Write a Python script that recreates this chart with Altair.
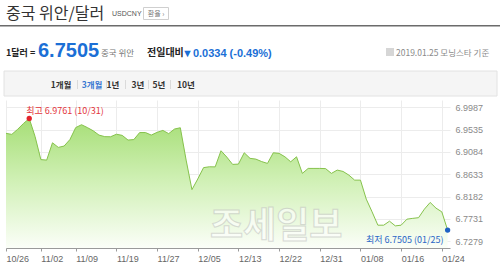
import altair as alt
import pandas as pd

# ---- data ----
values = [
    6.9461, 6.9440, 6.9542, 6.9659, 6.9761, 6.9398, 6.8930, 6.8920, 6.9270, 6.9177,
    6.9204, 6.9335, 6.9578, 6.9635, 6.9578, 6.9513, 6.9426, 6.9394, 6.9392, 6.9443,
    6.9420, 6.9325, 6.9335, 6.9477, 6.9477, 6.9426, 6.9481, 6.9520, 6.9455, 6.9548,
    6.9574, 6.8920, 6.8323, 6.8538, 6.8768, 6.8785, 6.8783, 6.9109, 6.8981, 6.8833,
    6.8839, 6.9068, 6.8955, 6.8940, 6.8890, 6.8853, 6.9068, 6.9056, 6.8987, 6.8886,
    6.8987, 6.8651, 6.8752, 6.8752, 6.8752, 6.8748, 6.8651, 6.8718, 6.8691, 6.8617,
    6.8515, 6.8515, 6.8131, 6.7874, 6.7604, 6.7604, 6.7685, 6.7590, 6.7604, 6.7726,
    6.7742, 6.7756, 6.7928, 6.8064, 6.7949, 6.7874, 6.7505,
]
tick_index = [0, 6, 12, 19, 26, 33, 40, 47, 54, 61, 68, 75]
tick_labels = ["10/26", "11/02", "11/09", "11/19", "11/27", "12/05",
               "12/13", "12/22", "12/31", "01/08", "01/16", "01/24"]
y_ticks = [6.7279, 6.7731, 6.8182, 6.8633, 6.9084, 6.9535, 6.9987]
y_domain = [6.7143, 7.0135]
high_label = "최고 6.9761 (10/31)"
low_label = "최저 6.7505 (01/25)"

df = pd.DataFrame({"i": list(range(len(values))), "v": values})
hi_i = values.index(max(values))
lo_i = values.index(min(values))
hi_df = df.iloc[[hi_i]].assign(t=high_label)
lo_df = df.iloc[[lo_i]].assign(t=low_label)

KR = "Noto Sans CJK KR"
PL, PT = 6, 100  # plot origin in page coords
W, H = 444, 148

x_scale = alt.Scale(domain=[0, 76.41], nice=False, zero=False)
y_scale = alt.Scale(domain=y_domain, nice=False, zero=False)

label_expr = "[" + ",".join(f"'{l}'" for l in tick_labels) + "][indexof([" + \
    ",".join(str(t) for t in tick_index) + "], datum.value)]"

x_axis = alt.Axis(
    values=tick_index, labelExpr=label_expr, title=None, grid=True,
    gridColor="#ececec", domainColor="#9a9a9a", tickColor="#9a9a9a", tickSize=3,
    labelAlign="left", labelPadding=3, labelFontSize=9, labelColor="#666",
    labelFont="Liberation Sans", labelFlush=False, labelOverlap=False)
y_axis = alt.Axis(
    orient="right", values=y_ticks, format=".4f", title=None, grid=True,
    gridColor="#ececec", domain=False, ticks=False, labelPadding=5,
    labelFontSize=9, labelColor="#8a8a8a", labelFont="Liberation Sans",
    labelOverlap=False, labelFlush=False)


def X():
    return alt.X("i:Q", scale=x_scale, axis=x_axis)


def Y():
    return alt.Y("v:Q", scale=y_scale, axis=y_axis)


area = alt.Chart(df).mark_area(
    fill=alt.Gradient(gradient="linear",
                      stops=[alt.GradientStop(color="#a6de76", offset=0),
                             alt.GradientStop(color="#d2f1b8", offset=0.5),
                             alt.GradientStop(color="#fbfef8", offset=1)],
                      x1=0, x2=0, y1=0, y2=1),
    opacity=1,
    line={"color": "#86c24c", "strokeWidth": 1},
).encode(x=X(), y=Y(), y2=alt.datum(y_domain[0]))

watermark = alt.Chart(pd.DataFrame({"t": ["조세일보"]})).mark_text(
    font=KR, fontSize=36, fontWeight="bold", fill="white", stroke="#c4c4c4",
    strokeWidth=1, opacity=0.6, align="left", baseline="alphabetic"
).encode(x=alt.value(210 - PL), y=alt.value(238 - PT), text="t:N")

hi_pt = alt.Chart(hi_df).mark_point(filled=True, color="#e3242b", size=28, opacity=1).encode(
    x=X(), y=Y())
hi_tx = alt.Chart(hi_df).mark_text(font=KR, fontSize=9, color="#e3343b", align="left",
                                   dx=-3, dy=-8).encode(x=X(), y=Y(), text="t:N")
lo_pt = alt.Chart(lo_df).mark_point(filled=True, color="#1f62c4", size=28, opacity=1).encode(
    x=X(), y=Y())
lo_tx = alt.Chart(lo_df).mark_text(font=KR, fontSize=9, color="#2a66c6", align="right",
                                   dx=-4, dy=10).encode(x=X(), y=Y(), text="t:N")

one = pd.DataFrame({"k": [0]})


def txt(s, x, y, size, color, weight="normal", align="left", font=KR):
    return alt.Chart(one).mark_text(
        text=s, font=font, fontSize=size, color=color, fontWeight=weight,
        align=align, baseline="alphabetic"
    ).encode(x=alt.value(x - PL), y=alt.value(y - PT))


def rect(x1, x2, y1, y2, fill, stroke=None):
    kw = {"fill": fill}
    if stroke:
        kw["stroke"] = stroke
        kw["strokeWidth"] = 1
    return alt.Chart(one).mark_rect(**kw).encode(
        x=alt.value(x1 - PL), x2=alt.value(x2 - PL),
        y=alt.value(y1 - PT), y2=alt.value(y2 - PT))


header = [
    txt("중국 위안/달러", 6, 19, 16, "#333"),
    txt("USDCNY", 112, 16, 7, "#555", font="Liberation Sans"),
    rect(143.5, 168.5, 7.5, 19.5, "white", "#cfcfcf"),
    txt("환율 ›", 156, 16, 7, "#777", align="center"),
    rect(0, 500, 25, 26.5, "#6b6b6b"),
    txt("1달러 =", 6, 56, 9, "#222", "bold"),
    txt("6.7505", 38, 57, 20, "#1b6fd6", "bold", font="Liberation Sans"),
    txt("중국 위안", 101, 56, 8.5, "#777"),
    txt("전일대비", 147, 56, 10, "#222", "bold"),
    txt("▼0.0334 (-0.49%)", 182, 57, 11, "#1b6fd6", "bold", font="Liberation Sans"),
    rect(386, 394, 48, 56, "#d6d6d6"),
    txt("2019.01.25 모닝스타 기준", 396, 56, 8.5, "#8a8a8a"),
    rect(4, 497, 71, 96, "#f5f5f5", "#e2e2e2"),
    txt("1개월", 61, 88, 8.5, "#333", "bold", "center"),
    txt("3개월", 92, 88, 8.5, "#3a78d2", "bold", "center"),
    txt("1년", 113, 88, 8.5, "#333", "bold", "center"),
    txt("3년", 138, 88, 8.5, "#333", "bold", "center"),
    txt("5년", 159, 88, 8.5, "#333", "bold", "center"),
    txt("10년", 186, 88, 8.5, "#333", "bold", "center"),
]
for sx in [77, 106, 125, 148, 170]:
    header.append(rect(sx, sx + 0.8, 80, 89, "#d4d4d4"))

chart = alt.layer(area, watermark, hi_pt, hi_tx, lo_pt, lo_tx, *header).properties(
    width=W, height=H,
    padding={"left": PL, "top": PT, "right": 500 - PL - W, "bottom": 267 - PT - H},
    autosize="none", background="white",
).configure_view(stroke=None)

chart.save("out.html", embed_options={"renderer": "svg", "actions": False})
